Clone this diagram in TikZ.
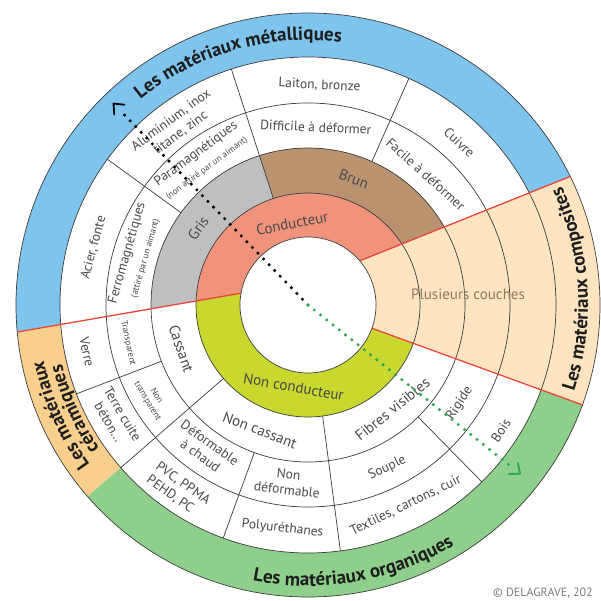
\documentclass[tikz,border=0pt]{standalone}
\usepackage{fontspec}
\setmainfont{PT Sans}
\usetikzlibrary{decorations.text}
\definecolor{metblue}{HTML}{7EC4EC}
\definecolor{cream}{HTML}{FEE4C0}
\definecolor{orggreen}{HTML}{8ECF8C}
\definecolor{ceramor}{HTML}{F9CF8E}
\definecolor{salmon}{HTML}{F1937A}
\definecolor{ygreen}{HTML}{C9D82E}
\definecolor{grisc}{HTML}{BEBFC1}
\definecolor{brunc}{HTML}{B99370}
\definecolor{redc}{HTML}{E8473A}
\definecolor{linec}{HTML}{3C3C3C}
\definecolor{labc}{HTML}{4A4A4A}
\definecolor{titlec}{HTML}{1E1E1E}
\definecolor{pluc}{HTML}{8B7A5E}
\definecolor{arrowgreen}{HTML}{2FA84F}
\definecolor{copyc}{HTML}{7A7A7A}
\newcommand{\titlef}{\fontsize{19}{20}\selectfont\bfseries\color{titlec}}
\newcommand{\annsec}[5]{\fill[#1] (#2:#4pt) arc[start angle=#2,end angle=#3,radius=#4pt] -- (#3:#5pt) arc[start angle=#3,end angle=#2,radius=#5pt] -- cycle;}
\begin{document}
\begin{tikzpicture}[x=1pt,y=1pt,
  ringline/.style={draw=linec, line width=0.7pt},
  radline/.style={draw=linec, line width=0.7pt},
  redl/.style={draw=redc, line width=1.3pt},
  lab/.style={text=labc, inner sep=0pt, align=center, font=\fontsize{13.5}{16}\selectfont},
  labbig/.style={lab, font=\fontsize{15}{17}\selectfont},
  labsmall/.style={lab, font=\fontsize{9}{10.5}\selectfont},
  dotblack/.style={draw=black, line width=3.4pt, line cap=round, dash pattern=on 0pt off 8pt},
  dotgreen/.style={dotblack, draw=arrowgreen},
  chev/.style={line width=1.8pt, line cap=round, line join=round},
  curvetitle/.style={decorate, decoration={text along path, text align=center, text={|\titlef|#1}}}
]
\useasboundingbox (-308,-296) rectangle (293,305);
\coordinate (O) at (0,0);
\coordinate (A) at (0,23.4);
\coordinate (B) at (-330,-33.8);
\coordinate (C) at (330,155.7);
\coordinate (Df) at (330,-120.1);

% base disc
\fill[white] (O) circle (292pt);

% metals
\begin{scope}
\clip (A) -- (B) -- (-330,330) -- (330,330) -- (C) -- cycle;
\fill[metblue, even odd rule] (O) circle (292pt) (O) circle (248pt);
\fill[salmon, even odd rule] (O) circle (112pt) (O) circle (68pt);
\annsec{grisc}{108}{215}{112}{157}
\annsec{brunc}{0}{108}{112}{157}
\end{scope}

% composites
\begin{scope}
\clip (A) -- (C) -- (Df) -- (O) -- cycle;
\fill[cream, even odd rule] (O) circle (292pt) (O) circle (68pt);
\end{scope}

% non metals
\begin{scope}
\clip (A) -- (B) -- (-330,-330) -- (330,-330) -- (Df) -- (O) -- cycle;
\fill[ygreen, even odd rule] (O) circle (112pt) (O) circle (68pt);
\annsec{ceramor}{150}{221}{248}{292}
\annsec{orggreen}{221}{350}{248}{292}
\end{scope}

% ring circles
\foreach \r in {112,157,202,248,292} {\draw[ringline] (O) circle (\r pt);}

% radial separators
\draw[radline] (108:112pt) -- (108:248pt);
\draw[radline] (144:157pt) -- (144:248pt);
\draw[radline] (66:157pt) -- (66:248pt);
\draw[radline] (201:157pt) -- (201:248pt);
\draw[radline] (221:112pt) -- (221:248pt);
\draw[radline] (250:157pt) -- (250:248pt);
\draw[radline] (277.5:112pt) -- (277.5:248pt);
\draw[radline] (314.5:157pt) -- (314.5:248pt);

% red borders
\begin{scope}
\clip (O) circle (292pt);
\draw[redl] (A) -- (B);
\draw[redl] (A) -- (C);
\draw[redl] (O) -- (Df);
\end{scope}

% inner circle
\fill[white] (O) circle (68pt);
\draw[ringline] (O) circle (68pt);

% titles along arcs
\path[curvetitle={Les matériaux métalliques}] (156:265pt) arc[start angle=156,end angle=56,radius=265pt];
\path[curvetitle={Les matériaux composites}] (-46.5:280pt) arc[start angle=-46.5,end angle=53.5,radius=280pt];
\path[curvetitle={Les matériaux organiques}] (230:281pt) arc[start angle=230,end angle=330,radius=281pt];
\path[curvetitle={Les matériaux}] (244:270pt) arc[start angle=244,end angle=164,radius=270pt];
\path[curvetitle={céramiques}] (244:253pt) arc[start angle=244,end angle=164,radius=253pt];

% ring 1
\node[labbig, rotate=11] (cond) at (101:83pt) {Conducteur};
\node[labbig, rotate=-10] (ncond) at (260:83pt) {Non conducteur};

% ring 2
\node[labbig, rotate=55] (gris) at (145:134pt) {Gris};
\node[labbig, rotate=-20] (brun) at (70:134pt) {Brun};
\node[labbig, rotate=-71] (cassant) at (199:134pt) {Cassant};
\node[labbig, rotate=-21] (ncassant) at (249:134pt) {Non cassant};
\node[labbig, rotate=39] (fibres) at (309:134pt) {Fibres visibles};

% ring 3
\node[lab, rotate=36.5] (para) at (126.5:188pt) {Paramagnétiques};
\node[labsmall, rotate=36.5] (para2) at (126.5:170pt) {(non attiré par un aimant)};
\node[lab, rotate=74] (ferro) at (164:188pt) {Ferromagnétiques};
\node[labsmall, rotate=74] (ferro2) at (164:169pt) {(attiré par un aimant)};
\node[lab, rotate=-2.5] (diff) at (87.5:178pt) {Difficile à déformer};
\node[lab, rotate=-42] (facile) at (48:176pt) {Facile à déformer};
\node[labsmall, rotate=-78] (transp) at (192:184pt) {Transparent};
\node[labsmall, rotate=-59] (ntransp) at (211:182pt) {Non\\transparent};
\node[lab, rotate=-35.5] (deform) at (234.5:177pt) {Déformable\\à chaud};
\node[lab, rotate=-6.5] (ndeform) at (263.5:178pt) {Non\\déformable};
\node[lab, rotate=26] (souple) at (296:181pt) {Souple};
\node[lab, rotate=57] (rigide) at (327:181pt) {Rigide};

% ring 4
\node[lab, rotate=75] (acier) at (165:222pt) {Acier, fonte};
\node[lab, rotate=36.5] (alu) at (126.5:222pt) {Aluminium, inox\\titane, zinc};
\node[lab, rotate=-3] (laiton) at (87:220pt) {Laiton, bronze};
\node[lab, rotate=-43] (cuivre) at (47:222pt) {Cuivre};
\node[lab, rotate=-78] (verre) at (192:226pt) {Verre};
\node[lab, rotate=-59.5] (terre) at (210.5:223pt) {Terre cuite\\béton...};
\node[lab, rotate=-35, align=left] (pvc) at (235:226pt) {PVC, PPMA\\PEHD, PC};
\node[lab, rotate=-6.5] (poly) at (263.5:225pt) {Polyuréthanes};
\node[lab, rotate=26] (textiles) at (296:223pt) {Textiles, cartons, cuir};
\node[lab, rotate=57] (bois) at (327:230pt) {Bois};

% composites label
\node[labbig, text=pluc] (plus) at (160,11) {Plusieurs couches};

% dotted reading arrows
\coordinate (mdots) at (134:268pt);
\coordinate (mt) at (134:280pt);
\coordinate (gdots) at (-38.5:258pt);
\coordinate (gt) at (-38.5:271pt);
\draw[dotblack] (O) -- (mdots);
\draw[chev, draw=black] (mt) ++(274:11) -- (mt) -- ++(354:11);
\draw[dotgreen] (O) -- (gdots);
\draw[chev, draw=arrowgreen] (gt) ++(101.5:11) -- (gt) -- ++(181.5:11);

% copyright
\node[anchor=west, inner sep=0pt, text=copyc, font=\fontsize{12}{13}\selectfont] (copy) at (185,-288) {© DELAGRAVE, 202};
\end{tikzpicture}
\end{document}
